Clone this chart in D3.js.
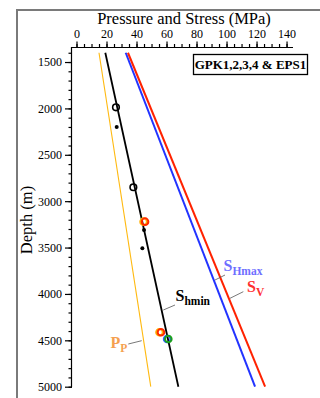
<!DOCTYPE html>
<meta charset="utf-8">
<style>

body {
    background: #fff;
    margin: 0;
    padding: 0;
    overflow: hidden;
}

text {
    font-family: 'Liberation Serif', 'Times New Roman', serif;
}

.axis path, .axis line {
    stroke: #000;
    stroke-width: 1.2px;
}

.axis text {
    font-size: 12px;
    fill: #000;
}

</style>
<svg width="320" height="398"></svg>

<script src="https://d3js.org/d3.v7.min.js"></script>

<script>
// Depths (m) where the stress profiles start and end
var depthEnds = [1400, 5000];

// Linear profiles (MPa) at the two end depths
var sv = [34.3, 125.7];
var shmax = [32.8, 119];
var shmin = [19.2, 67.9];
var pp = [15, 49.5];

// Measurements: pressure (MPa) and depth (m)
var openPts = [[26.3, 1988], [37.9, 2850]];
var dotPts = [[26.8, 2200], [45, 3311], [43.9, 3508]];
var redPts = [[45.7, 3221], [56.3, 4413]];
var greenPts = [[61.2, 4486]];

var xTicks = [0, 20, 40, 60, 80, 100, 120, 140];
var yTicks = [1500, 2000, 2500, 3000, 3500, 4000, 4500, 5000];

var svg = d3.select("svg");

// outer gray frame (cut off on the right and bottom)
svg.append("rect")
    .attr("x", 17).attr("y", 10)
    .attr("width", 340).attr("height", 420)
    .attr("fill", "none")
    .attr("stroke", "#7a7a7a")
    .attr("stroke-width", 2);

var x = d3.scaleLinear().domain([-3, 144.3]).range([72, 293]);
var y = d3.scaleLinear().domain([1338, 5000]).range([47, 386.7]);

// top axis: minor ticks every 5 MPa, labels every 20
svg.append("g")
    .attr("class", "axis")
    .attr("transform", "translate(0,47)")
    .call(d3.axisTop(x).tickValues(d3.range(0, 141, 5)).tickSize(3).tickFormat(""))
    .call(function(g) { g.select(".domain").remove(); });

svg.append("g")
    .attr("class", "axis")
    .attr("transform", "translate(0,47)")
    .call(d3.axisTop(x).tickValues(xTicks).tickSize(5.5).tickPadding(4).tickSizeOuter(0).tickFormat(d3.format("d")))
    .call(function(g) { g.select(".domain").attr("d", "M72,0.5H293"); });

// left axis: minor ticks every 100 m
svg.append("g")
    .attr("class", "axis")
    .attr("transform", "translate(72,0)")
    .call(d3.axisLeft(y).tickValues(d3.range(1400, 5001, 100)).tickSize(3.5).tickFormat(""))
    .call(function(g) { g.select(".domain").remove(); });

svg.append("g")
    .attr("class", "axis")
    .attr("transform", "translate(72,0)")
    .call(d3.axisLeft(y).tickValues(yTicks).tickSize(7).tickPadding(3).tickSizeOuter(0).tickFormat(d3.format("d")))
    .call(function(g) { g.select(".domain").attr("d", "M-0.5,47V387"); });

// axis titles
svg.append("text")
    .attr("x", 184).attr("y", 24)
    .attr("text-anchor", "middle")
    .style("font-size", "16.5px")
    .text("Pressure and Stress (MPa)");

svg.append("text")
    .attr("transform", "translate(32,220) rotate(-90)")
    .attr("text-anchor", "middle")
    .style("font-size", "16.5px")
    .text("Depth (m)");

// legend box
svg.append("rect")
    .attr("x", 193.5).attr("y", 54.5)
    .attr("width", 114).attr("height", 20)
    .attr("fill", "#fff")
    .attr("stroke", "#000")
    .attr("stroke-width", 1.3);

svg.append("text")
    .attr("x", 250.5).attr("y", 69)
    .attr("text-anchor", "middle")
    .style("font-size", "13px")
    .style("font-weight", "bold")
    .text("GPK1,2,3,4 & EPS1");

// stress profile lines
var line = d3.line()
    .x(function(d) { return x(d[0]); })
    .y(function(d) { return y(d[1]); });

var profiles = [
    {v: pp, color: "#ffb90f", w: 1.1},
    {v: shmin, color: "#000", w: 1.8},
    {v: shmax, color: "#2233ff", w: 2},
    {v: sv, color: "#ff2200", w: 2}
];

svg.selectAll(".profile")
    .data(profiles)
    .enter().append("path")
    .attr("class", "profile")
    .attr("d", function(d) { return line(depthEnds.map(function(z, i) { return [d.v[i], z]; })); })
    .attr("fill", "none")
    .attr("stroke", function(d) { return d.color; })
    .attr("stroke-width", function(d) { return d.w; });

// measurement markers
svg.selectAll(".open")
    .data(openPts)
    .enter().append("circle")
    .attr("cx", function(d) { return x(d[0]); })
    .attr("cy", function(d) { return y(d[1]); })
    .attr("r", 3.3)
    .attr("fill", "none")
    .attr("stroke", "#000")
    .attr("stroke-width", 1.6);

svg.selectAll(".dot")
    .data(dotPts)
    .enter().append("circle")
    .attr("cx", function(d) { return x(d[0]); })
    .attr("cy", function(d) { return y(d[1]); })
    .attr("r", 2)
    .attr("fill", "#000");

// orange ring slightly left, red ring on top
svg.selectAll(".orange")
    .data(redPts)
    .enter().append("circle")
    .attr("cx", function(d) { return x(d[0]) - 1.5; })
    .attr("cy", function(d) { return y(d[1]); })
    .attr("r", 3.3)
    .attr("fill", "none")
    .attr("stroke", "#ffb000")
    .attr("stroke-width", 2);

svg.selectAll(".red")
    .data(redPts)
    .enter().append("circle")
    .attr("cx", function(d) { return x(d[0]); })
    .attr("cy", function(d) { return y(d[1]); })
    .attr("r", 3.3)
    .attr("fill", "none")
    .attr("stroke", "#ff2a00")
    .attr("stroke-width", 2);

svg.selectAll(".blue")
    .data(greenPts)
    .enter().append("circle")
    .attr("cx", function(d) { return x(d[0]) - 1.2; })
    .attr("cy", function(d) { return y(d[1]); })
    .attr("r", 3.3)
    .attr("fill", "none")
    .attr("stroke", "#2a5cff")
    .attr("stroke-width", 2);

svg.selectAll(".green")
    .data(greenPts)
    .enter().append("circle")
    .attr("cx", function(d) { return x(d[0]); })
    .attr("cy", function(d) { return y(d[1]); })
    .attr("r", 3.3)
    .attr("fill", "none")
    .attr("stroke", "#1aa01a")
    .attr("stroke-width", 2);

// profile labels with leader lines
var labels = [
    {main: "S", sub: "Hmax", x: 223.5, y: 270.5, color: "#6f6fff", lead: [[215, 280], [225, 275]]},
    {main: "S", sub: "V", x: 247, y: 291.5, color: "#ff3030", lead: [[230, 298.3], [243.3, 291.7]]},
    {main: "S", sub: "hmin", x: 175.5, y: 300.5, color: "#000", lead: [[163.3, 310], [175, 305]]},
    {main: "P", sub: "P", x: 110.5, y: 348, color: "#f5a050", lead: [[128.3, 344], [141.7, 340.7]]}
];

svg.selectAll(".lead")
    .data(labels)
    .enter().append("line")
    .attr("x1", function(d) { return d.lead[0][0]; })
    .attr("y1", function(d) { return d.lead[0][1]; })
    .attr("x2", function(d) { return d.lead[1][0]; })
    .attr("y2", function(d) { return d.lead[1][1]; })
    .attr("stroke", "#555")
    .attr("stroke-width", 0.8);

var lab = svg.selectAll(".lab")
    .data(labels)
    .enter().append("text")
    .attr("x", function(d) { return d.x; })
    .attr("y", function(d) { return d.y; })
    .style("fill", function(d) { return d.color; })
    .style("font-weight", "bold")
    .style("font-size", "16px");

lab.append("tspan").text(function(d) { return d.main; });
lab.append("tspan")
    .attr("dy", 4)
    .style("font-size", "11.5px")
    .text(function(d) { return d.sub; });

</script>
